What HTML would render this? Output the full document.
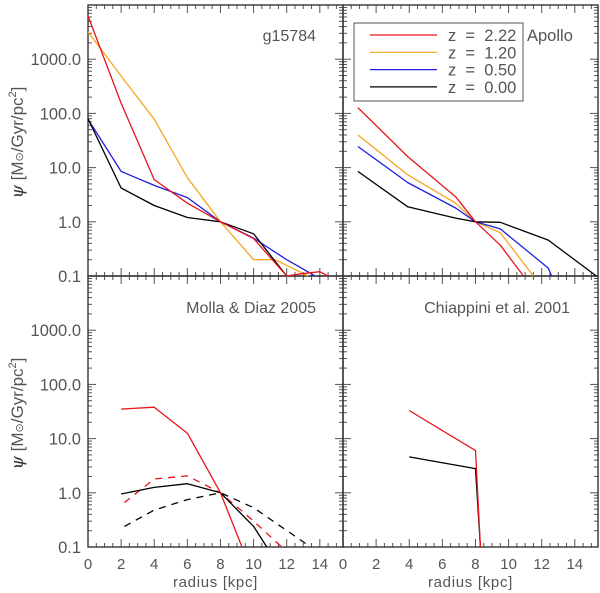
<!DOCTYPE html>
<html><head><meta charset="utf-8">
<style>
html,body{margin:0;padding:0;background:#fff;}
svg{display:block;font-family:"Liberation Sans",sans-serif;}
</style></head>
<body>
<svg id="chart" width="600" height="593" viewBox="0 0 600 593" xmlns="http://www.w3.org/2000/svg"></svg>
<script>
// ---- data ----
const xTicks = [0,2,4,6,8,10,12,14];
const yTickVals = [0.1,1,10,100,1000];
const yTickLabels = ["0.1","1.0","10.0","100.0","1000.0"];
const legendLabels = ["z = 2.22","z = 1.20","z = 0.50","z = 0.00"];
const seriesColors = ["#e8141c","#f5a623","#2020e0","#000000"];

// g15784 panel
const g_red_x = [0,2,4,6,8,10,12,12.85,14,14.5];
const g_red_y = [6300,155,6,2.2,1.0,0.49,0.1,0.11,0.12,0.1];
const g_org_x = [0,2,4,6,8,10,11.3,13.3];
const g_org_y = [3200,490,78,6.5,1.0,0.2,0.2,0.1];
const g_blu_x = [0,2,4,6,8,10,12,13.5,13.7];
const g_blu_y = [78,8.5,4.7,2.8,1.0,0.5,0.2,0.11,0.1];
const g_blk_x = [0,2,4,6,8,10,12];
const g_blk_y = [80,4.2,2.0,1.2,1.0,0.6,0.1];

// Apollo panel
const a_x = [0.9,3.9,6.8,8,9.5,12.4,15.3];
const a_red_x = [0.9,3.9,6.8,8,9.5,10.9];
const a_red_y = [128,16,2.9,1.0,0.37,0.1];
const a_org_x = [0.9,3.9,6.8,8,9.5,11.5];
const a_org_y = [40,7.4,2.2,1.0,0.63,0.1];
const a_blu_x = [0.9,3.9,6.8,8,9.5,12.4,12.6];
const a_blu_y = [24.5,5.3,1.8,1.0,0.74,0.14,0.1];
const a_blk_y = [8.5,1.9,1.17,1.0,0.98,0.46,0.1];

// Molla & Diaz panel
const m_red_x = [2,4,6,8,9.3];
const m_red_y = [35,38,12.6,1.0,0.1];
const m_redd_x = [2.2,4,6,8,10,11.7];
const m_redd_y = [0.66,1.8,2.05,1.0,0.3,0.1];
const m_blk_x = [2,4,6,8,10,10.8];
const m_blk_y = [0.95,1.26,1.47,1.0,0.24,0.1];
const m_blkd_x = [2.2,4,6,8,10,13.45];
const m_blkd_y = [0.24,0.48,0.75,1.0,0.53,0.1];

// Chiappini panel
const c_x = [4,8,8.3];
const c_red_y = [33,6,0.1];
const c_blk_y = [4.6,2.8,0.1];

// ---- layout ----
const svg = document.getElementById('chart');
const NS = "http://www.w3.org/2000/svg";
const XMAX = 15.4, LOGMIN = -1, LOGMAX = 4;
const panels = [
  {name:'g15784', x0:88, x1:343, y0:5, y1:276, left:true, bottom:false},
  {name:'apollo', x0:343, x1:598, y0:5, y1:276, left:false, bottom:false},
  {name:'molla', x0:88, x1:343, y0:276, y1:547, left:true, bottom:true},
  {name:'chiappini', x0:343, x1:598, y0:276, y1:547, left:false, bottom:true}
];
function sx(p,v){return p.x0 + v/XMAX*(p.x1-p.x0);}
function sy(p,v){const l=Math.log10(v);return p.y1 - (l-LOGMIN)/(LOGMAX-LOGMIN)*(p.y1-p.y0);}
function mk(tag,attrs,parent){const e=document.createElementNS(NS,tag);for(const k in attrs)e.setAttribute(k,attrs[k]);(parent||svg).appendChild(e);return e;}

function drawAxes(p){
  const g = mk('g',{});
  
  
  const ac = '#555';
  for(let v=0; v<=XMAX+1e-9; v+=0.5){
    const major = Math.abs(v/2-Math.round(v/2))<1e-9;
    const L = major?8:4, x=sx(p,v);
    mk('line',{x1:x,y1:p.y1,x2:x,y2:p.y1-L,stroke:ac,'stroke-width':1},g);
    mk('line',{x1:x,y1:p.y0,x2:x,y2:p.y0+L,stroke:ac,'stroke-width':1},g);
  }
  for(let d=LOGMIN; d<LOGMAX; d++){
    for(let m=1;m<10;m++){
      const v=m*Math.pow(10,d), y=sy(p,v);
      const L = m===1?8:4;
      mk('line',{x1:p.x0,y1:y,x2:p.x0+L,y2:y,stroke:ac,'stroke-width':1},g);
      mk('line',{x1:p.x1,y1:y,x2:p.x1-L,y2:y,stroke:ac,'stroke-width':1},g);
    }
  }
  mk('rect',{x:p.x0,y:p.y0,width:p.x1-p.x0,height:p.y1-p.y0,fill:'none',stroke:'#333','stroke-width':1.4},g);
  if(p.left){
    yTickVals.forEach((v,i)=>{
      const t=mk('text',{x:p.x0-7,y:sy(p,v)+6,'text-anchor':'end','font-size':16.5,fill:'#555'},g);
      t.textContent=yTickLabels[i];
      
      
    });
    const cy=(p.y0+p.y1)/2+2;
    const t=mk('text',{x:0,y:0,transform:`translate(23,${cy}) rotate(-90)`,'text-anchor':'middle','font-size':17,fill:'#555'},g);
    t.innerHTML='<tspan font-style="italic" font-family="DejaVu Serif,serif" fill="#333">ψ</tspan> [M<tspan font-size="11">⊙</tspan>/Gyr/pc<tspan font-size="11" dy="-7">2</tspan><tspan dy="7">]</tspan>';
    
    
  }
  if(p.bottom){
    xTicks.forEach(v=>{
      const t=mk('text',{x:sx(p,v),y:569,'text-anchor':'middle','font-size':15,fill:'#555'},g);
      t.textContent=v;
      
      
    });
    const t=mk('text',{x:(p.x0+p.x1)/2,y:587,'text-anchor':'middle','font-size':15,'letter-spacing':0.7,fill:'#555'},g);
    t.textContent='radius [kpc]';
    
    
  }
}
function line(p,xs,ys,color,name,dash){
  const pts=xs.map((x,i)=>sx(p,x).toFixed(1)+','+sy(p,ys[i]).toFixed(1)).join(' ');
  const attrs={points:pts,fill:'none',stroke:color,'stroke-width':1.3,'stroke-linejoin':'round'};
  if(dash) attrs['stroke-dasharray']=dash;
  const el=mk('polyline',attrs);
  
  
}
function label(x,y,txt,name){
  const t=mk('text',{x:x,y:y,'text-anchor':'end','font-size':16,fill:'#555'});
  t.textContent=txt;
  
  
}
panels.forEach(drawAxes);
const [P0,P1,P2,P3]=panels;
line(P0,g_org_x,g_org_y,seriesColors[1],'g15784-z1.20-line');
line(P0,g_blu_x,g_blu_y,seriesColors[2],'g15784-z0.50-line');
line(P0,g_blk_x,g_blk_y,seriesColors[3],'g15784-z0.00-line');
line(P0,g_red_x,g_red_y,seriesColors[0],'g15784-z2.22-line');
label(316,41,'g15784','panel-title-g15784');

line(P1,a_org_x,a_org_y,seriesColors[1],'apollo-z1.20-line');
line(P1,a_blu_x,a_blu_y,seriesColors[2],'apollo-z0.50-line');
line(P1,a_x,a_blk_y,seriesColors[3],'apollo-z0.00-line');
line(P1,a_red_x,a_red_y,seriesColors[0],'apollo-z2.22-line');

const lg=mk('g',{});


mk('rect',{x:354,y:23,width:169,height:78,fill:'#fff',stroke:'#555','stroke-width':1},lg);
legendLabels.forEach((s,i)=>{
  const y=35+i*17.3;
  const e=mk('g',{},lg);
  
  
  mk('line',{x1:370,y1:y,x2:437,y2:y,stroke:seriesColors[i],'stroke-width':1.2},e);
  const t=mk('text',{x:448,y:y+6,'font-size':16.5,fill:'#555'},e);
  t.textContent=s.replace(/ /g,'\u00a0\u00a0');
});
const ap=mk('text',{x:527,y:41,'font-size':16.5,fill:'#555'});
ap.textContent='Apollo';



line(P2,m_blkd_x,m_blkd_y,'#000','molla-z0-dashed-line','7,6');
line(P2,m_redd_x,m_redd_y,seriesColors[0],'molla-z2-dashed-line','7,6');
line(P2,m_blk_x,m_blk_y,'#000','molla-z0-line');
line(P2,m_red_x,m_red_y,seriesColors[0],'molla-z2-line');
label(316,313,'Molla & Diaz 2005','panel-title-molla');

line(P3,c_x,c_blk_y,'#000','chiappini-z0-line');
line(P3,c_x,c_red_y,seriesColors[0],'chiappini-z2-line');
label(570,313,'Chiappini et al. 2001','panel-title-chiappini');
</script>
</body></html>
